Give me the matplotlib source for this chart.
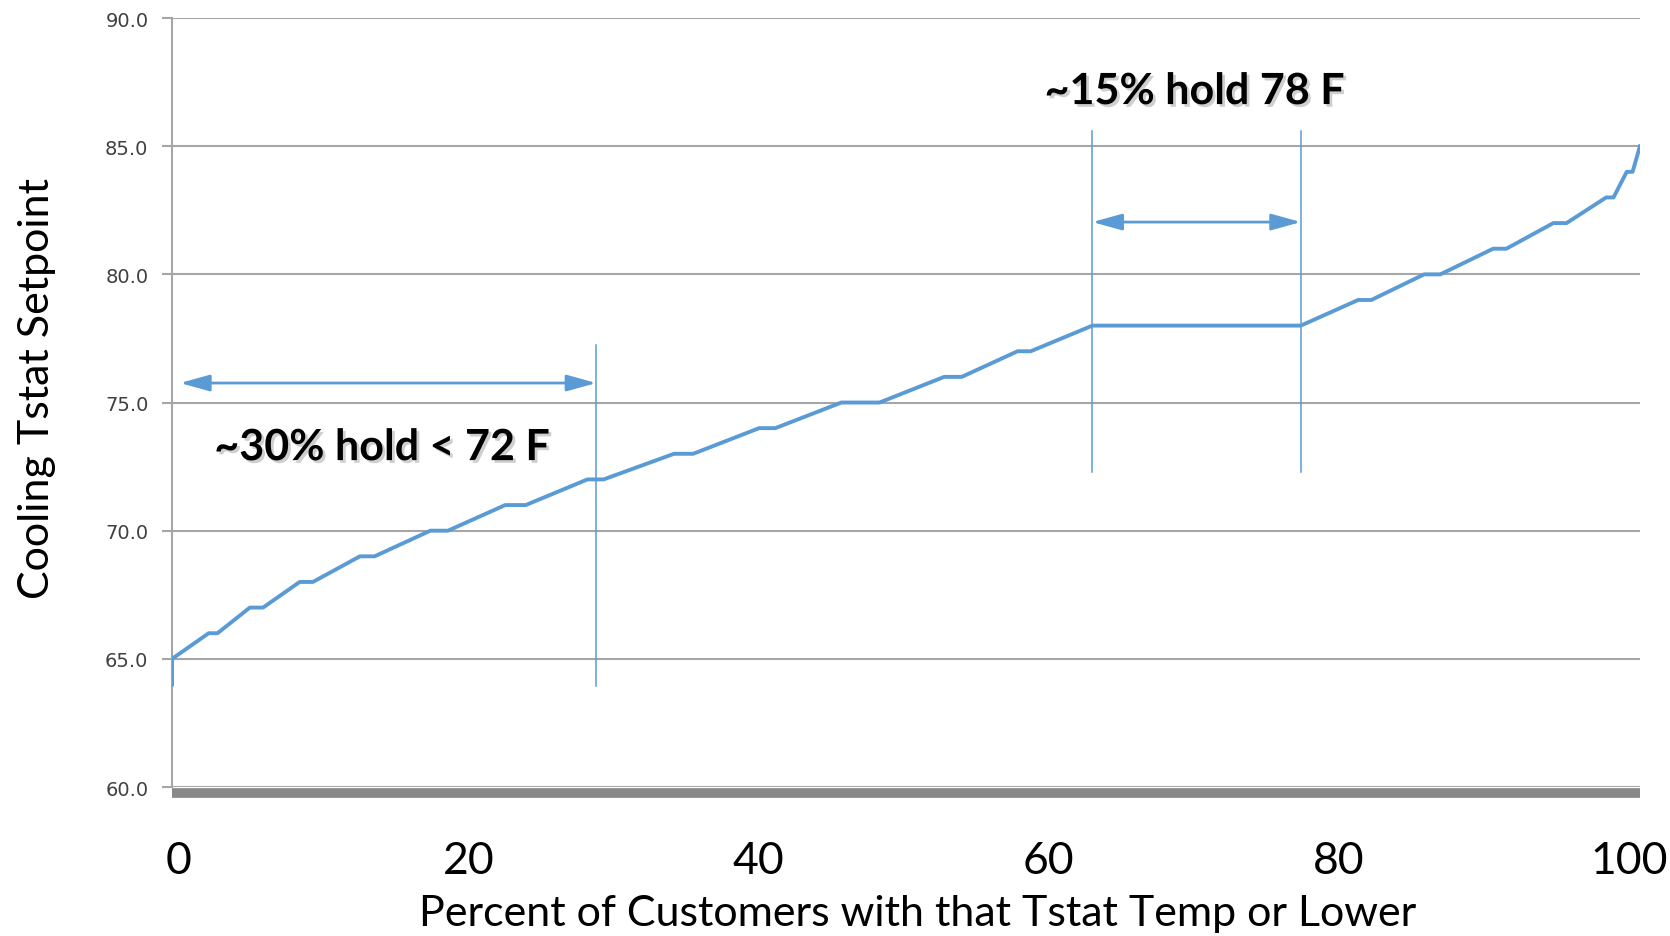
import matplotlib
matplotlib.use("Agg")
import matplotlib.pyplot as plt
import matplotlib.patheffects as pe

# cumulative share of customers (%) vs cooling setpoint (F)
pct = [0, 0, 2.5, 3.1, 5.3, 6.2, 8.7, 9.6, 12.8, 13.8, 17.6, 18.8, 22.7, 24.1,
       28.3, 29.4, 34.2, 35.5, 40.0, 41.1, 45.6, 48.2, 52.6, 53.8, 57.6, 58.5,
       62.7, 76.9, 80.8, 81.7, 85.3, 86.4, 90.0, 90.9, 94.1, 95.0, 97.7, 98.2,
       99.1, 99.5, 100]
temp = [64, 65, 66, 66, 67, 67, 68, 68, 69, 69, 70, 70, 71, 71,
        72, 72, 73, 73, 74, 74, 75, 75, 76, 76, 77, 77,
        78, 78, 79, 79, 80, 80, 81, 81, 82, 82, 83, 83,
        84, 84, 85]

yticks = [60, 65, 70, 75, 80, 85, 90]
xticks = [0, 20, 40, 60, 80, 100]

# annotation markers
cut_low = 28.9          # ~30% below 72 F
hold_lo, hold_hi = 62.7, 76.9   # plateau at 78 F

blue = "#5B9BD5"
grid = "#A6A6A6"

fig = plt.figure(figsize=(16.7, 9.37), dpi=100)
ax = fig.add_axes([0.103, 0.159, 0.879, 0.8207])

# spines first: set_position resets the ticks
for s in ["top", "right"]:
    ax.spines[s].set_visible(False)
ax.spines["left"].set_color(grid)
ax.spines["left"].set_linewidth(1.5)
ax.spines["bottom"].set_color("#898989")
ax.spines["bottom"].set_linewidth(7)
ax.spines["bottom"].set_capstyle("butt")
ax.spines["bottom"].set_position(("outward", 4))

ax.plot(pct, temp, color=blue, lw=2.8, solid_joinstyle="round", zorder=3)

ax.set_xlim(0, 100)
ax.set_ylim(60, 90)
ax.set_yticks(yticks)
ax.set_yticklabels([f"{v:.1f}" for v in yticks], family="DejaVu Sans")
ax.set_xticks(xticks)
ax.tick_params(axis="x", length=0, labelbottom=False)
ax.tick_params(axis="y", length=7, width=1.5, color=grid, pad=10,
               labelsize=14, labelcolor="#404040")
ax.yaxis.grid(True, color=grid, lw=1.5)
ax.set_axisbelow(True)

# the x labels in the original sit slightly inside the plot ends
def fwd(x):
    return (x - 0.45) * 100 / 98.8

def inv(v):
    return v * 98.8 / 100 + 0.45

sec = ax.secondary_xaxis("bottom", functions=(fwd, inv))
sec.set_xticks(xticks)
sec.set_xticklabels([str(v) for v in xticks], family="Lato")
sec.tick_params(length=0, pad=38, labelsize=32)
sec.spines["bottom"].set_visible(False)

# vertical guide lines
ax.plot([cut_low, cut_low], [63.94, 77.24], color=blue, lw=1.1)
ax.plot([hold_lo, hold_lo], [72.29, 85.59], color=blue, lw=1.1)
ax.plot([hold_hi, hold_hi], [72.29, 85.59], color=blue, lw=1.1)

arrow = dict(arrowstyle="<|-|>,head_length=0.9,head_width=0.25", color=blue,
             lw=2, mutation_scale=20, shrinkA=0, shrinkB=0)
ax.annotate("", xy=(cut_low, 75.76), xytext=(0.55, 75.76), arrowprops=arrow)
ax.annotate("", xy=(hold_hi, 82.04), xytext=(hold_lo, 82.04), arrowprops=arrow)

shadow = [pe.SimplePatchShadow(offset=(2, -2), shadow_rgbFace="#888888", alpha=0.4),
          pe.Normal()]
ax.text(14.3, 73.26, "~30% hold < 72 F", fontsize=31, fontweight="bold", family="Lato",
        ha="center", va="center", path_effects=shadow)
ax.text(69.65, 87.15, "~15% hold 78 F", fontsize=31, fontweight="bold", family="Lato",
        ha="center", va="center", path_effects=shadow, clip_on=False)

fig.text(918 / 1670, 1 - 914 / 937, "Percent of Customers with that Tstat Temp or Lower",
         fontsize=31, family="Lato", ha="center", va="center")
fig.text(37 / 1670, 1 - 389 / 937, "Cooling Tstat Setpoint", rotation=90,
         fontsize=31, family="Lato", ha="center", va="center")

fig.savefig("out.png", dpi=100)
